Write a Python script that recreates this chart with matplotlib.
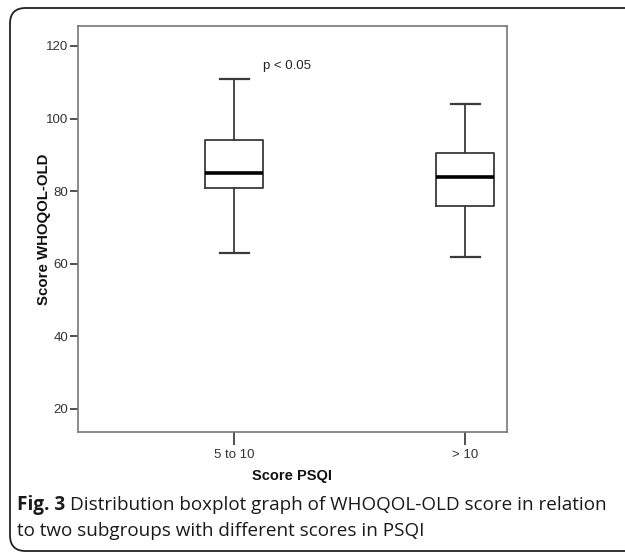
import matplotlib
matplotlib.use("Agg")
import matplotlib.pyplot as plt
from matplotlib.patches import FancyBboxPatch

categories = ["5 to 10", "> 10"]
whisker_low = [63, 62]
q1 = [81, 76]
median = [85, 84]
q3 = [94, 90.5]
whisker_high = [111, 104]
yticks = [20, 40, 60, 80, 100, 120]

W, H = 625, 553
fig = plt.figure(figsize=(W / 100, H / 100), dpi=100)

# rounded frame
frame = FancyBboxPatch((10 / W, 2 / H), 700 / W, (H - 8 - 2) / H,
                       boxstyle="round,pad=0,rounding_size=0.025",
                       transform=fig.transFigure, fill=False,
                       edgecolor="#222222", linewidth=1.3,
                       mutation_aspect=W / H)
fig.patches.append(frame)

ax = fig.add_axes([78 / W, (H - 432) / H, (507 - 78) / W, (432 - 26) / H])

stats = []
for i, c in enumerate(categories):
    stats.append(dict(label=c, whislo=whisker_low[i], q1=q1[i], med=median[i],
                      q3=q3[i], whishi=whisker_high[i], fliers=[]))
line_col = "#3a3a3a"
ax.bxp(stats, positions=[1, 2], widths=0.25, showfliers=False,
       boxprops=dict(color=line_col, linewidth=1.3),
       whiskerprops=dict(color=line_col, linewidth=1.3),
       capprops=dict(color=line_col, linewidth=1.6),
       medianprops=dict(color="black", linewidth=2.6),
       capwidths=0.125)

ax.set_xlim(0.325, 2.18)
ax.set_ylim(13.66, 125.5)
ax.set_yticks(yticks)
ax.set_xticks([1, 2])
ax.set_xticklabels(categories)

font = "Liberation Sans"
for lab in ax.get_xticklabels() + ax.get_yticklabels():
    lab.set_fontfamily(font)
    lab.set_fontsize(9.5)
    lab.set_color("#333333")

for s in ax.spines.values():
    s.set_color("#777777")
    s.set_linewidth(1.2)
ax.tick_params(axis="y", direction="out", length=6, width=1.2, color="#333333", pad=1)
ax.tick_params(axis="x", direction="out", length=9, width=1.2, color="#333333", pad=3)

ax.set_xlabel("Score PSQI", fontfamily=font, fontweight="bold", fontsize=10.5,
              color="#111111", labelpad=6)
ax.set_ylabel("Score WHOQOL-OLD", fontfamily=font, fontweight="bold", fontsize=10.8,
              color="#111111", labelpad=-3.5)

ax.text(1.23, 114.5, "p < 0.05", fontfamily=font, fontsize=9.5, ha="center",
        va="center", color="#222222")

cap_font = "Open Sans"
cap_size = 13.6
t1 = fig.text(17 / W, 1 - 505 / H, "Fig. 3", fontsize=cap_size, va="center", ha="left",
              fontfamily=cap_font, fontweight="bold", color="#1a1a1a")
fig.canvas.draw()
bb = t1.get_window_extent()
x_after = (bb.x1 + 5) / W
fig.text(x_after, 1 - 505 / H, "Distribution boxplot graph of WHOQOL-OLD score in relation",
         fontsize=cap_size, va="center", ha="left", fontfamily=cap_font, color="#1a1a1a")
fig.text(17 / W, 1 - 531 / H, "to two subgroups with different scores in PSQI",
         fontsize=cap_size, va="center", ha="left", fontfamily=cap_font, color="#1a1a1a")

fig.savefig("out.png", dpi=100)
